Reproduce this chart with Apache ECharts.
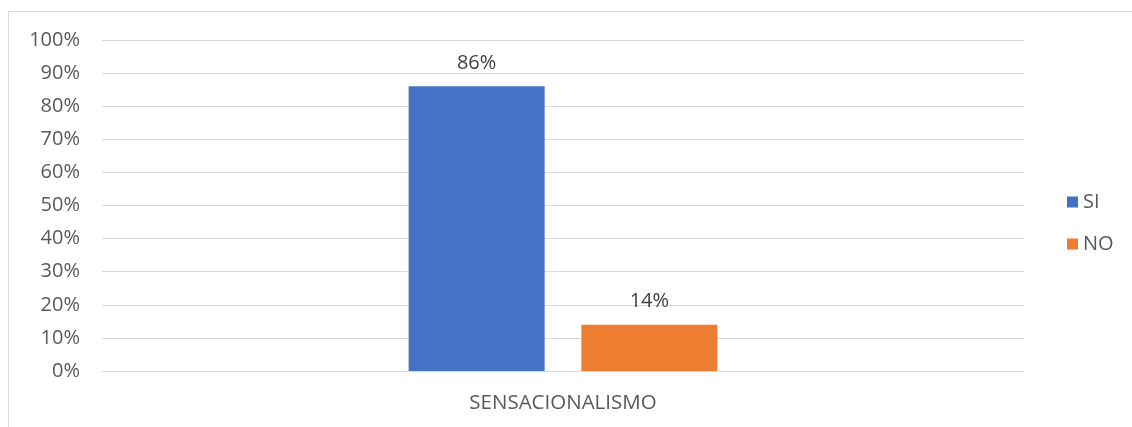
<!DOCTYPE html>
<html>
<head>
<meta charset="utf-8">
<script src="https://cdn.jsdelivr.net/npm/echarts@6/dist/echarts.min.js"></script>
<style>
html,body{margin:0;padding:0;background:#fff;}
#chart{width:1132px;height:427px;}
</style>
</head>
<body>
<div id="chart"></div>
<script>
const categories = ['SENSACIONALISMO'];
const seriesNames = ['SI', 'NO'];
const siValues = [86];
const noValues = [14];
const colors = ['#4472C4', '#ED7D31'];

const FONT = '"Open Sans", sans-serif';
const chart = echarts.init(document.getElementById('chart'));
const labelStyle = {
  show: true, position: 'top', distance: 13,
  formatter: p => p.value + '%',
  color: '#404040', fontSize: 20, fontFamily: FONT
};
chart.setOption({
  animation: false,
  graphic: [{
    type: 'rect', silent: true,
    shape: { x: 8.5, y: 11.5, width: 1300, height: 600 },
    style: { fill: 'none', stroke: '#d9d9d9', lineWidth: 1 }
  }],
  grid: { left: 102, right: 108, top: 40, bottom: 56 },
  legend: {
    orient: 'vertical', left: 1062, top: 187,
    itemWidth: 11, itemHeight: 11, itemGap: 22,
    icon: 'rect',
    textStyle: { color: '#595959', fontSize: 20, fontFamily: FONT },
    data: seriesNames
  },
  xAxis: {
    type: 'category', data: categories,
    axisLine: { lineStyle: { color: '#d9d9d9', width: 1 } },
    axisTick: { show: false },
    axisLabel: { color: '#595959', fontSize: 20.5, fontFamily: FONT, margin: 22 }
  },
  yAxis: {
    type: 'value', min: 0, max: 100, interval: 10,
    axisLine: { show: false }, axisTick: { show: false },
    axisLabel: { color: '#595959', fontSize: 20, fontFamily: FONT, margin: 22, formatter: '{value}%' },
    splitLine: { lineStyle: { color: '#d9d9d9', width: 1 } }
  },
  series: [
    { name: seriesNames[0], type: 'bar', data: siValues, barWidth: 136, barGap: '27%',
      itemStyle: { color: colors[0] }, label: labelStyle },
    { name: seriesNames[1], type: 'bar', data: noValues, barWidth: 136, barGap: '27%',
      itemStyle: { color: colors[1] }, label: labelStyle }
  ]
});
</script>
</body>
</html>
